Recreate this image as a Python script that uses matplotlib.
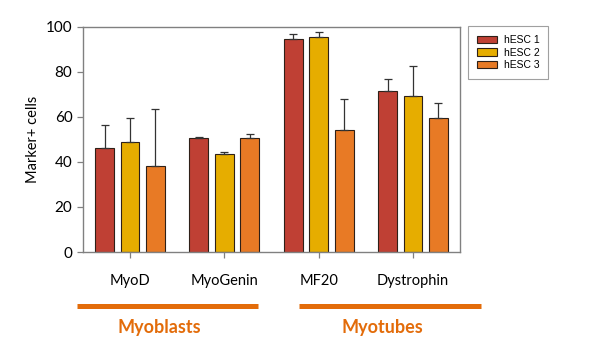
import numpy as np
import matplotlib.pyplot as plt
from matplotlib.lines import Line2D

markers = ['MyoD', 'MyoGenin', 'MF20', 'Dystrophin']
series = ['hESC 1', 'hESC 2', 'hESC 3']
hesc1 = [46.4, 50.8, 94.5, 71.4]
hesc2 = [48.8, 43.7, 95.6, 69.3]
hesc3 = [38.1, 50.8, 54.2, 59.4]
err1 = [10.2, 0.5, 2.5, 5.3]
err2 = [10.8, 0.6, 2.0, 13.2]
err3 = [25.6, 1.5, 13.7, 6.7]
groups = ['Myoblasts', 'Myotubes']

colors = ['#BF4034', '#E6AD00', '#E87A25']
accent = '#E36C0A'

plt.rcParams['font.family'] = ['Lato', 'DejaVu Sans']

fig = plt.figure(figsize=(6, 3.5), dpi=100)
ax = fig.add_axes([0.138, 0.28, 0.629, 0.643])

x = np.arange(len(markers))
w = 0.2
off = 0.27
for i, (vals, errs) in enumerate(zip([hesc1, hesc2, hesc3], [err1, err2, err3])):
    ax.bar(x + (i - 1) * off, vals, w, color=colors[i], edgecolor='#2e2018',
           linewidth=0.8, label=series[i],
           yerr=[np.zeros(len(errs)), errs], capsize=3,
           error_kw=dict(ecolor='#333333', elinewidth=0.9, capthick=0.9))

ax.set_xlim(-0.5, 3.5)
ax.set_ylim(0, 100)
ax.set_yticks(range(0, 101, 20))
ax.set_xticks(x)
ax.set_xticklabels(markers)
ax.set_ylabel('Marker+ cells', fontsize=10.5)
ax.tick_params(labelsize=11, color='#808080', length=4, width=0.9)
ax.tick_params(axis='x', pad=12, labelsize=10.5)
for s in ax.spines.values():
    s.set_color('#808080')
    s.set_linewidth(1.0)

leg = ax.legend(loc='upper left', bbox_to_anchor=(1.02, 1.003), borderaxespad=0,
                frameon=True, fancybox=False, edgecolor='#888888',
                handlelength=2.0, handleheight=0.7, borderpad=0.85,
                handletextpad=0.6, labelspacing=0.25,
                prop={'family': 'Liberation Sans', 'size': 7.5})
leg.get_frame().set_linewidth(0.8)

# group brackets below the axis
fig.add_artist(Line2D([76.7 / 600, 257.7 / 600], [1 - 306 / 350] * 2,
                      color=accent, linewidth=3.6, solid_capstyle='butt'))
fig.add_artist(Line2D([299 / 600, 480.7 / 600], [1 - 306 / 350] * 2,
                      color=accent, linewidth=3.6, solid_capstyle='butt'))
fig.text(159.5 / 600, 1 - 328 / 350, groups[0], color=accent, fontsize=13,
         fontweight='bold', ha='center', va='center')
fig.text(382 / 600, 1 - 328 / 350, groups[1], color=accent, fontsize=13,
         fontweight='bold', ha='center', va='center')

fig.savefig('out.png', dpi=100)
